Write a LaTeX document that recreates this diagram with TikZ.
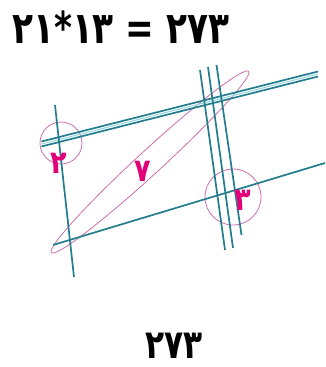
\documentclass[tikz,border=0pt]{standalone}
\usepackage{fontspec}
\usetikzlibrary{shapes.geometric,calc}
\TeXXeTstate=1
\newfontfamily\pfont[FakeStretch=0.78]{DejaVu Sans}
\newfontfamily\lfont[FakeStretch=0.85]{DejaVu Sans}
\definecolor{teal1}{RGB}{35,125,140}
\definecolor{tealhi}{RGB}{150,215,225}
\definecolor{ringc}{RGB}{205,110,175}
\definecolor{labc}{RGB}{225,0,120}
\tikzset{
  stick/.style={draw=teal1, line width=1.7pt},
  ring/.style={draw=ringc, line width=0.8pt},
  numlab/.style={text=labc, font=\lfont\bfseries\fontsize{32}{32}\selectfont, inner sep=0pt},
  bigtext/.style={font=\pfont\bfseries\fontsize{44}{44}\selectfont, inner sep=0pt},
  restext/.style={font=\pfont\bfseries\fontsize{40}{40}\selectfont, inner sep=0pt}
}
\begin{document}
\begin{tikzpicture}[x=1pt,y=-1pt]
\useasboundingbox (0,0) rectangle (325,367);
% title
\node[bigtext, anchor=base west] (title) at (12,43) {\beginL ۲۱*۱۳ = ۲۷۳\endL};
% magenta shapes
\node[ring, circle, minimum size=42pt, inner sep=0pt] (c2) at (61,143) {};
\node[ring, circle, minimum size=56pt, inner sep=0pt] (c3) at (233,197) {};
\node[ring, ellipse, minimum width=268pt, minimum height=24pt, inner sep=0pt, rotate=42.6] (e7) at (150,162) {};
% coordinates
\coordinate (tA1) at (41.5,141.5); \coordinate (tA2) at (318,71.5);
\coordinate (tB1) at (41.5,146.5); \coordinate (tB2) at (318,76.5);
\coordinate (b1) at (53,245); \coordinate (b2) at (325,163);
\coordinate (v1) at (55,105); \coordinate (v2) at (74,277);
\coordinate (r11) at (200,70); \coordinate (r12) at (225,250);
\coordinate (r21) at (208,67); \coordinate (r22) at (233,248);
\coordinate (r31) at (216.5,65); \coordinate (r32) at (241.5,235);
% sticks
\draw[stick] (tA1) -- (tA2);
\draw[stick] (tB1) -- (tB2);
\draw[tealhi, line width=1pt] ($(tA1)!0.5!(tB1)$) -- ($(tA2)!0.5!(tB2)$);
\draw[stick] (b1) -- (b2);
\draw[stick] (v1) -- (v2);
\draw[stick] (r11) -- (r12);
\draw[stick] (r21) -- (r22);
\draw[stick] (r31) -- (r32);
% labels
\node[numlab] (l2) at (59,163) {۲};
\node[numlab] (l7) at (143,171) {۷};
\node[numlab] (l3) at (243,200) {۳};
% result
\node[restext, anchor=base] (res) at (174,358) {۲۷۳};
\end{tikzpicture}
\end{document}
